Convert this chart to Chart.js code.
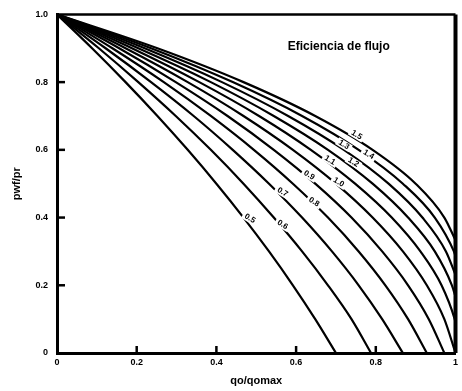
<!DOCTYPE html>
<html>
<head>
<meta charset="utf-8">
<script src="https://cdn.jsdelivr.net/npm/chart.js@4.4.1/dist/chart.umd.min.js"></script>
<style>
  body { margin: 0; background: #fff; }
  canvas { display: block; }
</style>
</head>
<body>
<canvas id="ipr" width="462" height="391"></canvas>
<script>
// curvas de Standing, eficiencia de flujo 0.5 .. 1.5
const efNames = ['0.5', '0.6', '0.7', '0.8', '0.9', '1.0', '1.1', '1.2', '1.3', '1.4', '1.5'];

const pGrid = [1.0, 0.9, 0.8, 0.7, 0.6, 0.5, 0.4, 0.3, 0.2, 0.1, 0.0];
const p11 = [1.0, 0.9, 0.8, 0.7, 0.6, 0.5, 0.4, 0.3, 0.2, 0.1, 0.09];
const p12 = [1.0, 0.9, 0.8, 0.7, 0.6, 0.5, 0.4, 0.3, 0.2, 0.167];
const p13 = [1.0, 0.9, 0.8, 0.7, 0.6, 0.5, 0.4, 0.3, 0.231];
const p14 = [1.0, 0.9, 0.8, 0.7, 0.6, 0.5, 0.4, 0.3, 0.286];
const p15 = [1.0, 0.9, 0.8, 0.7, 0.6, 0.5, 0.4, 0.333];

// qo/qomax
const q05 = [0, 0.088, 0.172, 0.252, 0.328, 0.400, 0.468, 0.532, 0.592, 0.648, 0.700];
const q06 = [0, 0.105, 0.204, 0.298, 0.386, 0.468, 0.544, 0.615, 0.680, 0.739, 0.788];
const q07 = [0, 0.122, 0.236, 0.343, 0.441, 0.532, 0.615, 0.690, 0.757, 0.816, 0.868];
const q08 = [0, 0.139, 0.268, 0.386, 0.494, 0.592, 0.680, 0.757, 0.824, 0.881, 0.928];
const q09 = [0, 0.156, 0.298, 0.428, 0.544, 0.648, 0.739, 0.816, 0.881, 0.933, 0.972];
const q10 = [0, 0.172, 0.328, 0.468, 0.592, 0.700, 0.792, 0.868, 0.928, 0.972, 1.000];
const q11 = [0, 0.188, 0.357, 0.507, 0.637, 0.748, 0.840, 0.912, 0.965, 0.998, 1.000];
const q12 = [0, 0.204, 0.386, 0.544, 0.680, 0.792, 0.881, 0.948, 0.991, 1.000];
const q13 = [0, 0.220, 0.414, 0.580, 0.720, 0.832, 0.917, 0.976, 1.000];
const q14 = [0, 0.236, 0.441, 0.615, 0.757, 0.868, 0.948, 0.996, 1.000];
const q15 = [0, 0.252, 0.468, 0.648, 0.792, 0.900, 0.972, 1.000];

// donde va el numero de cada curva
const labelQ = [0.484, 0.566, 0.566, 0.645, 0.633, 0.707, 0.685, 0.744, 0.720, 0.782, 0.752];
const labelP = [0.397, 0.379, 0.475, 0.446, 0.525, 0.504, 0.569, 0.563, 0.615, 0.586, 0.644];

const xTickText = ['0', '0.2', '0.4', '0.6', '0.8', '1'];
const yTickText = ['0', '0.2', '0.4', '0.6', '0.8', '1.0'];

const chartTitle = 'Eficiencia de flujo';

function pairs(qs, ps) {
  let data = [];
  for (let i = 0; i < qs.length; i++) {
    data.push({ x: qs[i], y: ps[i] });
  }
  return data;
}

const curves = [
  pairs(q05, pGrid), pairs(q06, pGrid), pairs(q07, pGrid), pairs(q08, pGrid),
  pairs(q09, pGrid), pairs(q10, pGrid), pairs(q11, p11), pairs(q12, p12),
  pairs(q13, p13), pairs(q14, p14), pairs(q15, p15)
];

let datasets = [];
for (let i = 0; i < curves.length; i++) {
  datasets.push({
    label: efNames[i],
    data: curves[i],
    showLine: true,
    borderColor: '#000',
    borderWidth: 2.2,
    pointRadius: 0,
    cubicInterpolationMode: 'monotone',
    fill: false
  });
}

// marcas hacia adentro, marco, etiquetas de curvas y titulo
const extras = {
  id: 'extras',
  afterDatasetsDraw(chart) {
    const ctx = chart.ctx;
    const xs = chart.scales.x, ys = chart.scales.y;
    const a = chart.chartArea;
    ctx.save();

    // numeros sobre las curvas
    ctx.font = 'bold 8px "Liberation Sans", Arial, sans-serif';
    ctx.textAlign = 'center';
    ctx.textBaseline = 'middle';
    for (let i = 0; i < efNames.length; i++) {
      const px = xs.getPixelForValue(labelQ[i]);
      const py = ys.getPixelForValue(labelP[i]);
      ctx.save();
      ctx.translate(px, py);
      ctx.rotate(0.55);
      ctx.fillStyle = '#fff';
      ctx.fillRect(-8, -4, 16, 8);
      ctx.fillStyle = '#000';
      ctx.fillText(efNames[i], 0, 0);
      ctx.restore();
    }

    // marco
    ctx.strokeStyle = '#000';
    ctx.lineWidth = 2.5;
    ctx.beginPath();
    ctx.moveTo(a.left, a.top);
    ctx.lineTo(a.right, a.top);
    ctx.stroke();
    ctx.lineWidth = 4;
    ctx.beginPath();
    ctx.moveTo(a.right, a.top);
    ctx.lineTo(a.right, a.bottom);
    ctx.stroke();

    // marcas
    ctx.lineWidth = 2.5;
    for (let v = 1; v <= 4; v++) {
      const t = v * 0.2;
      const tx = xs.getPixelForValue(t);
      ctx.beginPath();
      ctx.moveTo(tx, a.bottom);
      ctx.lineTo(tx, a.bottom - 7);
      ctx.stroke();
      const ty = ys.getPixelForValue(t);
      ctx.beginPath();
      ctx.moveTo(a.left, ty);
      ctx.lineTo(a.left + 8, ty);
      ctx.stroke();
    }

    // titulo
    ctx.font = 'bold 12px "Liberation Sans", Arial, sans-serif';
    ctx.fillStyle = '#000';
    ctx.textAlign = 'center';
    ctx.fillText(chartTitle, xs.getPixelForValue(0.707), ys.getPixelForValue(0.905));
    ctx.restore();
  }
};

new Chart(document.getElementById('ipr'), {
  type: 'scatter',
  data: { datasets: datasets },
  plugins: [extras],
  options: {
    responsive: false,
    animation: false,
    devicePixelRatio: 1,
    layout: { padding: { top: 10, right: 2, left: 0, bottom: 0 } },
    plugins: {
      legend: { display: false },
      tooltip: { enabled: false }
    },
    scales: {
      x: {
        type: 'linear',
        min: 0,
        max: 1,
        afterFit: function (scale) { scale.height = 38; },
        border: { display: true, color: '#000', width: 3 },
        grid: { drawOnChartArea: false, drawTicks: false },
        ticks: {
          stepSize: 0.2,
          padding: 4,
          color: '#000',
          font: { family: '"Liberation Sans", Arial, sans-serif', size: 9, weight: 'bold' },
          callback: function (value) {
            return xTickText[Math.round(value * 5)];
          }
        },
        title: {
          display: true,
          text: 'qo/qomax',
          color: '#000',
          padding: { top: 0, bottom: 3 },
          font: { family: '"Liberation Sans", Arial, sans-serif', size: 11, weight: 'bold' }
        }
      },
      y: {
        type: 'linear',
        min: 0,
        max: 1,
        afterFit: function (scale) { scale.width = 57; },
        border: { display: true, color: '#000', width: 3 },
        grid: { drawOnChartArea: false, drawTicks: false },
        ticks: {
          stepSize: 0.2,
          padding: 9,
          color: '#000',
          font: { family: '"Liberation Sans", Arial, sans-serif', size: 9, weight: 'bold' },
          callback: function (value) {
            return yTickText[Math.round(value * 5)];
          }
        },
        title: {
          display: true,
          text: 'pwf/pr',
          color: '#000',
          padding: { top: 10, bottom: 0 },
          font: { family: '"Liberation Sans", Arial, sans-serif', size: 11, weight: 'bold' }
        }
      }
    }
  }
});
</script>
</body>
</html>
